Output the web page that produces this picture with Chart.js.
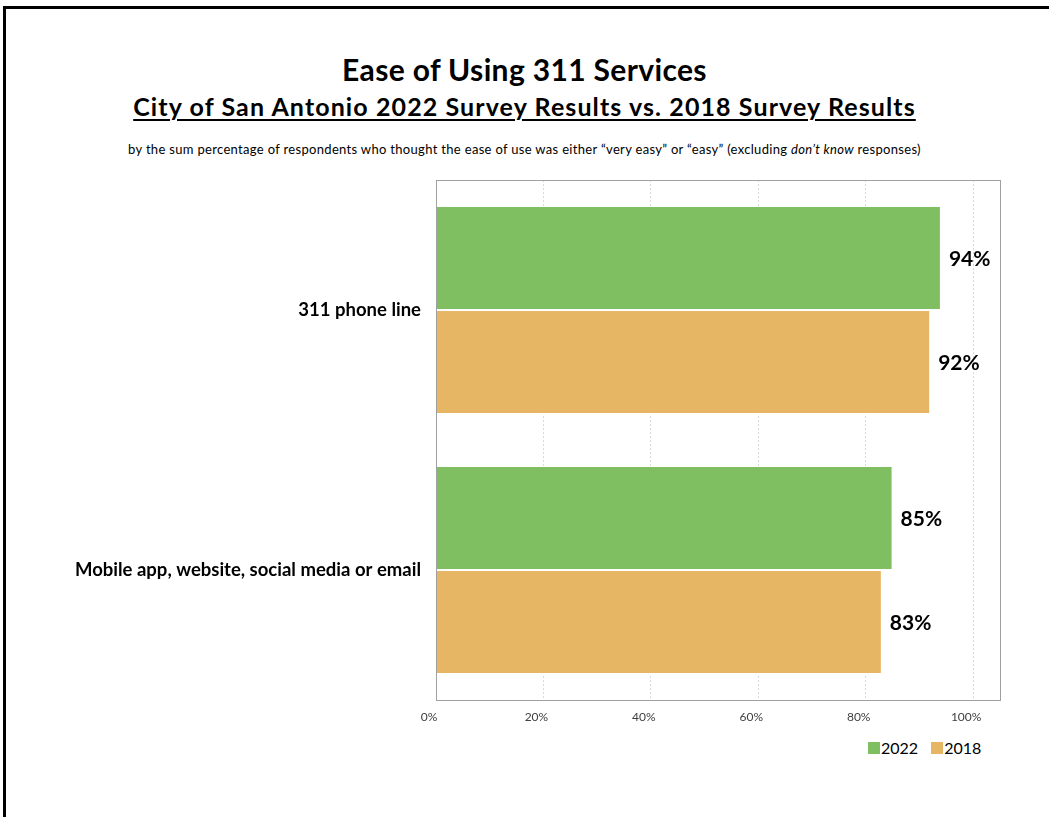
<!DOCTYPE html>
<html>
<head>
<meta charset="utf-8">
<script src="https://cdn.jsdelivr.net/npm/chart.js@4"></script>
<style>
  html, body { margin: 0; padding: 0; background: #fff; }
  body { width: 1049px; height: 817px; position: relative; overflow: hidden; font-family: Lato, "Open Sans", sans-serif; color: #000; }
  .frame-top { position: absolute; left: 3px; top: 6px; width: 1046px; height: 3px; background: #000; }
  .frame-left { position: absolute; left: 3px; top: 6px; width: 3px; height: 811px; background: #000; }
  .title { position: absolute; left: 0; width: 1049px; text-align: center; font-weight: 700; white-space: nowrap; }
  #t1 { top: 51px; font-size: 30px; letter-spacing: 0.35px; }
  #t2 { top: 91px; font-size: 25px; text-decoration: underline; text-decoration-thickness: 2px; text-underline-offset: 3px; letter-spacing: 1.1px; }
  #t3 { top: 141px; font-size: 13px; font-weight: 400; letter-spacing: 0.32px; }
  #wrap { position: absolute; left: 0; top: 154px; width: 1049px; height: 576px; }
  #legend { position: absolute; left: 868px; top: 738px; display: flex; align-items: center; font-size: 16px; }
  #legend .item { display: flex; align-items: center; margin-right: 13px; }
  #legend .sw { width: 12px; height: 12px; margin-right: 1px; }
</style>
</head>
<body>
<div class="frame-top"></div>
<div class="frame-left"></div>
<div class="title" id="t1">Ease of Using 311 Services</div>
<div class="title" id="t2">City of San Antonio 2022 Survey Results vs. 2018 Survey Results</div>
<div class="title" id="t3">by the sum percentage of respondents who thought the ease of use was either “very easy” or “easy” (excluding <i>don’t know</i> responses)</div>
<div id="wrap"><canvas id="c"></canvas></div>
<div id="legend"></div>
<script>
const categories = ['311 phone line', 'Mobile app, website, social media or email'];
const seriesNames = ['2022', '2018'];
const values2022 = [94, 85];
const values2018 = [92, 83];
const tickValues = [0, 20, 40, 60, 80, 100];

const GREEN = '#7fbf62';
const ORANGE = '#e6b665';
const FONT = 'Lato, "Open Sans", sans-serif';

// Bold percentage label to the right of each bar
const valueLabels = {
  id: 'valueLabels',
  afterDatasetsDraw(chart) {
    const ctx = chart.ctx;
    ctx.save();
    ctx.font = 'bold 21px ' + FONT;
    ctx.fillStyle = '#000';
    ctx.textAlign = 'left';
    ctx.textBaseline = 'middle';
    chart.data.datasets.forEach((ds, di) => {
      chart.getDatasetMeta(di).data.forEach((bar, i) => {
        ctx.fillText(ds.data[i] + '%', bar.x + 8, bar.y + 1);
      });
    });
    ctx.restore();
  }
};

// Thin grey frame round the plot area
const plotFrame = {
  id: 'plotFrame',
  afterDraw(chart) {
    const a = chart.chartArea, ctx = chart.ctx;
    ctx.save();
    ctx.strokeStyle = '#a0a0a0';
    ctx.lineWidth = 1;
    ctx.strokeRect(Math.round(a.left) + 0.5, Math.round(a.top) + 0.5, Math.round(a.right - a.left), Math.round(a.bottom - a.top));
    ctx.restore();
  }
};

const chart = new Chart(document.getElementById('c'), {
  type: 'bar',
  data: {
    labels: categories,
    datasets: [
      { label: seriesNames[0], data: values2022, backgroundColor: GREEN, borderColor: '#ffffff', borderWidth: 1 },
      { label: seriesNames[1], data: values2018, backgroundColor: ORANGE, borderColor: '#ffffff', borderWidth: 1 }
    ]
  },
  options: {
    indexAxis: 'y',
    responsive: true,
    maintainAspectRatio: false,
    animation: false,
    layout: { padding: { top: 0, right: 49, bottom: 0, left: 0 } },
    datasets: { bar: { categoryPercentage: 0.8, barPercentage: 1.0 } },
    plugins: { legend: { display: false }, tooltip: { enabled: false } },
    scales: {
      x: {
        min: 0,
        max: 105,
        afterBuildTicks(scale) { scale.ticks = tickValues.map(v => ({ value: v })); },
        afterFit(scale) { scale.height = 30; },
        ticks: {
          padding: 10,
          labelOffset: -7,
          color: '#404040',
          font: { family: FONT, size: 12 },
          callback: v => v + '%'
        },
        grid: { color: '#d8d8d8', drawTicks: false, tickLength: 0 },
        border: { display: true, color: '#a0a0a0', dash: [2, 2] }
      },
      y: {
        afterFit(scale) { scale.width = 436; },
        ticks: {
          padding: 15,
          color: '#000',
          font: { family: FONT, size: 18.5, weight: 'bold' }
        },
        grid: { display: false, drawTicks: false },
        border: { display: true, color: '#a0a0a0' }
      }
    }
  },
  plugins: [valueLabels, plotFrame]
});

// Legend row built from the datasets
const legend = document.getElementById('legend');
chart.data.datasets.forEach(ds => {
  const item = document.createElement('div');
  item.className = 'item';
  const sw = document.createElement('span');
  sw.className = 'sw';
  sw.style.background = ds.backgroundColor;
  const tx = document.createElement('span');
  tx.textContent = ds.label;
  item.appendChild(sw);
  item.appendChild(tx);
  legend.appendChild(item);
});
</script>
</body>
</html>
